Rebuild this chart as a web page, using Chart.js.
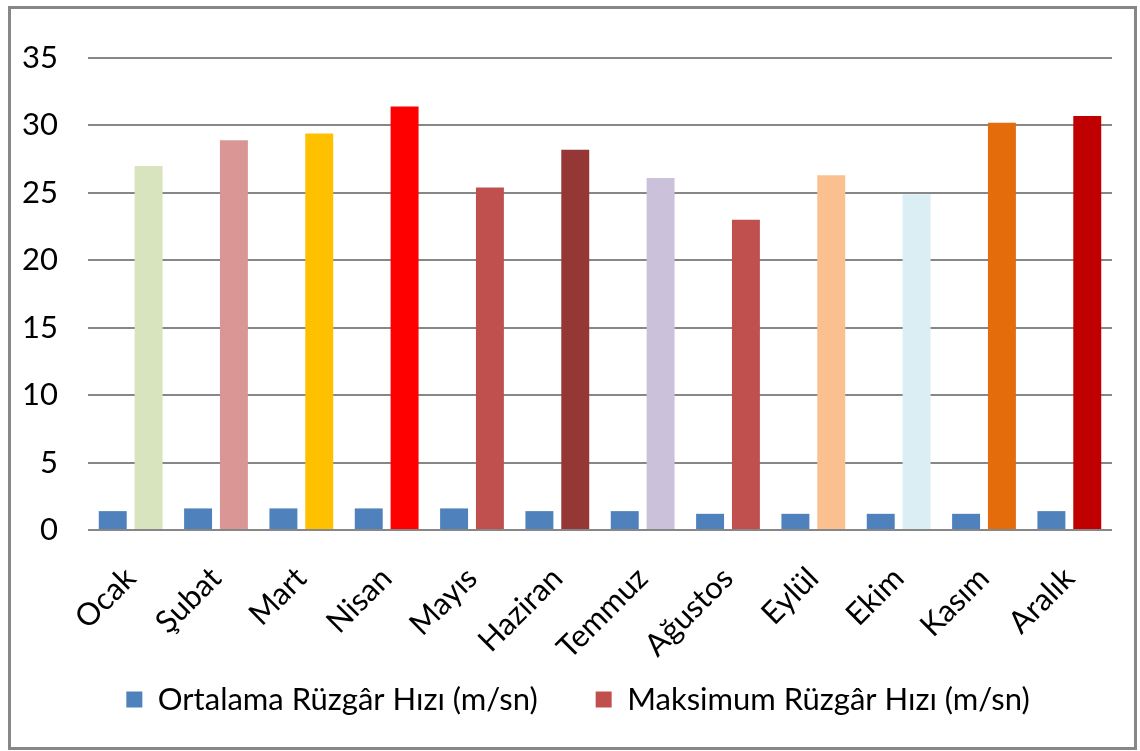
<!DOCTYPE html>
<html>
<head>
<meta charset="utf-8">
<script src="https://cdn.jsdelivr.net/npm/chart.js@4.4.1/dist/chart.umd.min.js"></script>
<style>
  html, body { margin: 0; padding: 0; background: #ffffff; }
  #wrap { width: 1140px; height: 751px; position: relative; }
</style>
</head>
<body>
<div id="wrap"><canvas id="c" width="1140" height="751"></canvas></div>
<script>
const months = ["Ocak", "Şubat", "Mart", "Nisan", "Mayıs", "Haziran", "Temmuz", "Ağustos", "Eylül", "Ekim", "Kasım", "Aralık"];
const avgLabel = "Ortalama Rüzgâr Hızı (m/sn)";
const maxLabel = "Maksimum Rüzgâr Hızı (m/sn)";
const avgSpeed = [1.4, 1.6, 1.6, 1.6, 1.6, 1.4, 1.4, 1.2, 1.2, 1.2, 1.2, 1.4];
const maxSpeed = [27.0, 28.9, 29.4, 31.4, 25.4, 28.2, 26.1, 23.0, 26.3, 24.9, 30.2, 30.7];
const yTicks = [0, 5, 10, 15, 20, 25, 30, 35];

const avgColor = "#4F81BD";
const maxColors = ["#D7E4BD", "#D99694", "#FFC000", "#FF0000", "#C0504D", "#953735",
                   "#CCC1DA", "#C0504D", "#FAC090", "#DBEEF4", "#E46C0A", "#C00000"];
const maxLegendColor = "#C0504D";
const gridColor = "#878787";
const FONT = "Lato";
const FSIZE = 31;

const frame = {
  id: "frame",
  beforeDraw(chart) {
    const ctx = chart.ctx;
    ctx.save();
    ctx.fillStyle = "#ffffff";
    ctx.fillRect(0, 0, chart.width, chart.height);
    ctx.strokeStyle = "#878787";
    ctx.lineWidth = 3;
    ctx.strokeRect(9.5, 7.5, 1126, 741);
    ctx.restore();
  }
};

new Chart(document.getElementById("c"), {
  type: "bar",
  data: {
    labels: months,
    datasets: [
      { label: avgLabel, data: avgSpeed, backgroundColor: avgColor, borderWidth: 0,
        categoryPercentage: 0.84, barPercentage: 0.78 },
      { label: maxLabel, data: maxSpeed, backgroundColor: maxColors, borderWidth: 0,
        categoryPercentage: 0.84, barPercentage: 0.78 }
    ]
  },
  options: {
    responsive: false,
    animation: false,
    devicePixelRatio: 1,
    layout: { padding: { left: 44, right: 28, top: 58, bottom: 26 } },
    plugins: {
      tooltip: { enabled: false },
      legend: {
        position: "bottom",
        labels: {
          font: { family: FONT, size: FSIZE },
          color: "#000000",
          boxWidth: 16,
          boxHeight: 16,
          padding: 58,
          generateLabels(chart) {
            const items = Chart.defaults.plugins.legend.labels.generateLabels(chart);
            items.forEach(it => {
              it.fillStyle = it.datasetIndex === 1 ? maxLegendColor : avgColor;
              it.strokeStyle = it.fillStyle;
              it.lineWidth = 0;
            });
            return items;
          }
        }
      }
    },
    scales: {
      x: {
        grid: { display: false, drawTicks: false },
        border: { display: false },
        ticks: {
          font: { family: FONT, size: FSIZE },
          color: "#000000",
          minRotation: 45,
          maxRotation: 45,
          padding: 30,
          autoSkip: false
        },
        afterFit(scale) {
          scale.height = 96;
          scale._computeLabelArea = () => undefined;
        }
      },
      y: {
        min: 0,
        max: 35,
        afterBuildTicks(scale) { scale.ticks = yTicks.map(v => ({ value: v })); },
        grid: { color: gridColor, lineWidth: 2, drawTicks: false },
        border: { display: false },
        ticks: {
          font: { family: FONT, size: FSIZE },
          color: "#000000",
          padding: 30
        },
        afterFit(scale) {
          scale.width = 44;
          scale._computeLabelArea = () => undefined;
        }
      }
    }
  },
  plugins: [frame]
});
</script>
</body>
</html>
